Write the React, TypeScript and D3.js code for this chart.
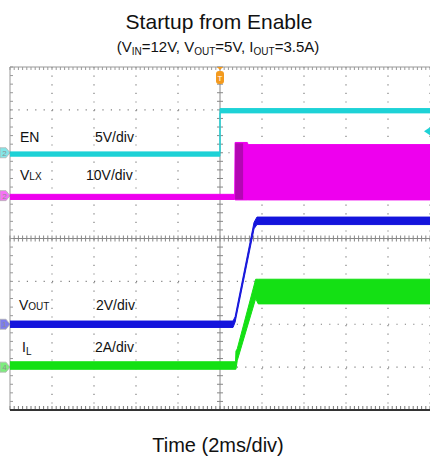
import React from 'react';
import * as d3 from 'd3';

// scope screen: 10 x 8 divisions, 2 ms/div
const timeDomain = [-10, 10];
const divDomain = [-4, 4];

// EN, 5 V/div, ground at +2 div
const enTime = [-10, 0, 0, 10];
const enLo = [-0.4, -0.4, 4.65, 4.65];
const enHi = [0.1, 0.1, 5.15, 5.15];

// VLX, 10 V/div, ground at +1 div
const vlxTime = [-10, 0.70, 0.72, 1.3, 1.34, 10];
const vlxLo = [-0.9, -0.9, -1.0, -1.0, -1.0, -1.0];
const vlxHi = [0.3, 0.3, 12.4, 12.4, 11.9, 11.9];
const vlxDarkTime = [0.72, 1.1];

// VOUT, 2 V/div, ground at -2 div
const voutTime = [-10, 0.62, 0.72, 1.62, 1.76, 10];
const voutLo = [-0.15, -0.15, 0.1, 4.45, 4.65, 4.65];
const voutHi = [0.15, 0.15, 0.35, 4.75, 5.0, 5.0];

// IL, 2 A/div, ground at -3 div
const ilTime = [-10, 0.74, 0.76, 0.82, 1.70, 1.82, 10];
const ilLo = [-0.1, -0.1, -0.1, 0.3, 3.2, 2.95, 2.95];
const ilHi = [0.25, 0.25, 0.75, 0.85, 4.1, 4.1, 4.1];

const channels = [
  { name: 'EN', num: '2', perDiv: 5, offset: 2, color: '#1ed2d6', time: enTime, lo: enLo, hi: enHi },
  { name: 'VLX', num: '2', perDiv: 10, offset: 1, color: '#ee00ee', time: vlxTime, lo: vlxLo, hi: vlxHi },
  { name: 'VOUT', num: '1', perDiv: 2, offset: -2, color: '#1414dc', time: voutTime, lo: voutLo, hi: voutHi },
  { name: 'IL', num: '4', perDiv: 2, offset: -3, color: '#14e014', time: ilTime, lo: ilLo, hi: ilHi },
];

const W = 430;
const H = 459;
const left = 10;
const right = 430;
const top = 67;
const bottom = 410;
const font = 'Liberation Sans, Arial, sans-serif';

export default function App() {
  const x = d3.scaleLinear().domain(timeDomain).range([left, right]);
  const y = d3.scaleLinear().domain(divDomain).range([bottom, top]);

  const vy = (c, v) => y(c.offset + v / c.perDiv);

  const area = (c) =>
    d3.area<number>()
      .x((d, i) => x(c.time[i]))
      .y0((d, i) => vy(c, c.lo[i]))
      .y1((d, i) => vy(c, c.hi[i]))
      .curve(d3.curveLinear)(c.time);

  const xDivs = d3.range(-5, 6).map(d => d * 2);
  const yDivs = d3.range(-4, 5);
  const xMinor = d3.range(-50, 51).map(d => d * 0.2);
  const yMinor = d3.range(-20, 21).map(d => d * 0.2);

  const vlx = channels[1];

  return (
    <svg width={W} height={H} style={{ position: 'absolute', left: 0, top: 0, background: '#fff' }} fontFamily={font}>
      <text x={219} y={29} textAnchor="middle" fontSize={21} fill="#111">Startup from Enable</text>
      <text x={218} y={52} textAnchor="middle" fontSize={15} fill="#111">
        (V<tspan fontSize={10} dy={3}>IN</tspan><tspan dy={-3}>=12V, V</tspan>
        <tspan fontSize={10} dy={3}>OUT</tspan><tspan dy={-3}>=5V, I</tspan>
        <tspan fontSize={10} dy={3}>OUT</tspan><tspan dy={-3}>=3.5A)</tspan>
      </text>

      <defs>
        <clipPath id="plot">
          <rect x={left} y={top} width={right - left} height={bottom - top} />
        </clipPath>
      </defs>

      {/* dotted grid */}
      {xDivs.filter(d => d !== 0 && d > -10).map(d => (
        <line key={'gx' + d} x1={x(d)} x2={x(d)} y1={top} y2={bottom} stroke="#808080" strokeWidth={1.2} strokeDasharray="1.2 7.4" />
      ))}
      {yDivs.filter(d => d !== 0 && d > -4 && d < 4).map(d => (
        <line key={'gy' + d} x1={left} x2={right} y1={y(d)} y2={y(d)} stroke="#808080" strokeWidth={1.2} strokeDasharray="1.2 7.2" />
      ))}

      {/* centre cross with minor ticks */}
      <line x1={x(0)} x2={x(0)} y1={top} y2={bottom} stroke="#888" strokeWidth={1} />
      <line x1={left} x2={right} y1={y(0)} y2={y(0)} stroke="#888" strokeWidth={1} />
      {xMinor.map(d => (
        <g key={'tx' + d}>
          <line x1={x(d)} x2={x(d)} y1={y(0) - 3} y2={y(0) + 3} stroke="#888" />
          <line x1={x(d)} x2={x(d)} y1={top} y2={top + 3} stroke="#999" />
          <line x1={x(d)} x2={x(d)} y1={bottom - 4} y2={bottom} stroke="#777" />
        </g>
      ))}
      {yMinor.map(d => (
        <g key={'ty' + d}>
          <line x1={x(0) - 3} x2={x(0) + 3} y1={y(d)} y2={y(d)} stroke="#888" />
          <line x1={left} x2={left + 3} y1={y(d)} y2={y(d)} stroke="#999" />
        </g>
      ))}

      {/* border */}
      <line x1={left} x2={right} y1={top} y2={top} stroke="#999" />
      <line x1={left} x2={left} y1={top} y2={bottom} stroke="#999" />
      <line x1={left} x2={right} y1={bottom} y2={bottom} stroke="#333" strokeWidth={2} />

      {/* traces */}
      <g clipPath="url(#plot)">
        {channels.map(c => (
          <path key={c.name} d={area(c) || ''} fill={c.color} stroke={c.color} strokeWidth={1} strokeLinejoin="round" />
        ))}
        <rect x={x(vlxDarkTime[0])} width={x(vlxDarkTime[1]) - x(vlxDarkTime[0])}
          y={vy(vlx, 12.2)} height={vy(vlx, -0.9) - vy(vlx, 12.2)} fill="#9a0a9a" opacity={0.7} />
      </g>

      {/* channel ground markers */}
      {channels.map(c => {
        const cy = vy(c, 0);
        return (
          <g key={'m' + c.name} opacity={0.55}>
            <path d={`M0,${cy - 5} L6,${cy - 5} L10,${cy} L6,${cy + 5} L0,${cy + 5} Z`} fill={c.color} stroke="#777" strokeWidth={0.8} />
            <text x={4.5} y={cy + 3} textAnchor="middle" fontSize={8} fill="#333">{c.num}</text>
          </g>
        );
      })}

      {/* trigger position marker */}
      <path d={`M${x(0) - 3},${top} L${x(0) + 3},${top} L${x(0)},${top + 3} Z`} fill="#f39a1e" />
      <rect x={x(0) - 4} y={top + 4} width={8} height={13} rx={3} fill="#f39a1e" />
      <text x={x(0)} y={top + 14} textAnchor="middle" fontSize={8} fill="#fff">T</text>

      {/* trigger level marker */}
      <path d={`M424,${vy(channels[0], 2.5)} L430,${vy(channels[0], 2.5) - 4} L430,${vy(channels[0], 2.5) + 4} Z`} fill="#1ed2d6" />

      {/* channel labels */}
      <g fontSize={14} fill="#111">
        <text x={20} y={142}>EN</text>
        <text x={95} y={142}>5V/div</text>
        <text x={20} y={180}>V<tspan fontSize={10}>LX</tspan></text>
        <text x={86} y={180}>10V/div</text>
        <text x={19} y={310}>V<tspan fontSize={10}>OUT</tspan></text>
        <text x={96} y={310}>2V/div</text>
        <text x={22} y={352}>I<tspan fontSize={10} dy={3}>L</tspan></text>
        <text x={95} y={352}>2A/div</text>
      </g>

      <text x={218} y={452} textAnchor="middle" fontSize={20} fill="#111">Time (2ms/div)</text>
    </svg>
  );
}
